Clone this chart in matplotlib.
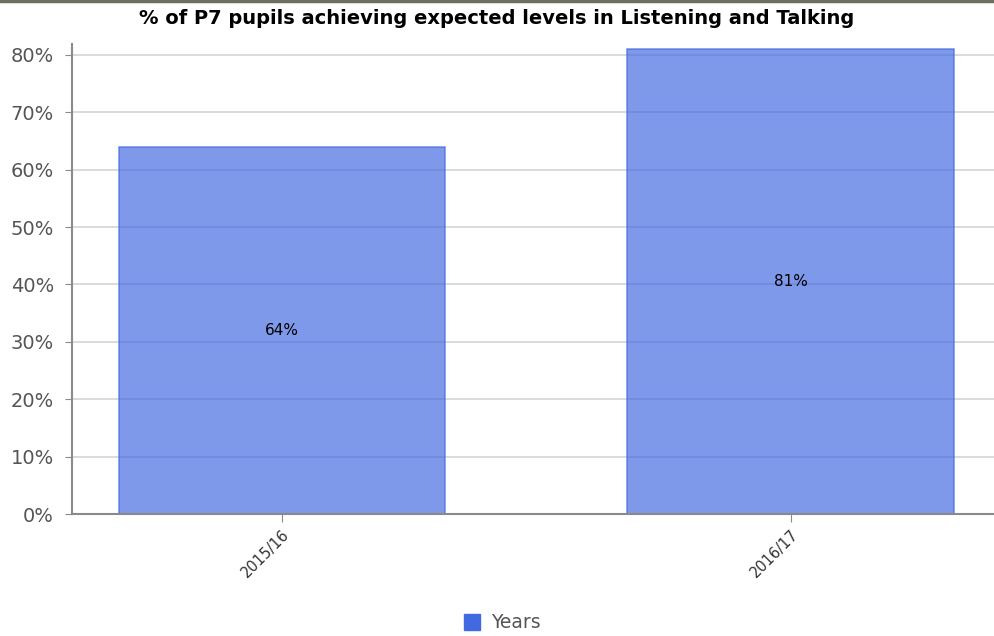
import matplotlib
matplotlib.use("Agg")
import matplotlib.pyplot as plt
from matplotlib.lines import Line2D
from matplotlib.ticker import FuncFormatter, MultipleLocator

# ---------------------------------------------------------------------------
# Data
# ---------------------------------------------------------------------------
years = ["2015/16", "2016/17"]
pct_achieving = [64, 81]
series_name = "Years"
title = "% of P7 pupils achieving expected levels in Listening and Talking"

BAR_COLOR = "#4169e1"

fig = plt.figure(figsize=(9.94, 6.36), dpi=100)
ax = fig.add_axes([72 / 994, 1 - 514 / 636, 1 - 72 / 994, (514 - 44) / 636])

x = range(len(years))
bars = ax.bar(x, pct_achieving, width=0.642, color=BAR_COLOR, alpha=0.68,
              edgecolor=BAR_COLOR, linewidth=1.2, zorder=2)

for xi, v in zip(x, pct_achieving):
    ax.text(xi, v / 2, f"{v}%", ha="center", va="center", fontsize=11,
            color="black", zorder=3)

ax.set_xlim(-0.413, 1.40)
ax.set_ylim(0, 81.9)
ax.yaxis.set_major_locator(MultipleLocator(10))
ax.yaxis.set_major_formatter(FuncFormatter(lambda v, _: f"{v:.0f}%"))
ax.set_xticks(list(x))
ax.set_xticklabels(years, rotation=45, ha="right", rotation_mode="anchor",
                   fontsize=10.5, color="#333333")

ax.grid(axis="y", color="#d4d4d4", linewidth=1.2, zorder=1)
ax.set_axisbelow(True)

for side in ("top", "right"):
    ax.spines[side].set_visible(False)
for side in ("left", "bottom"):
    ax.spines[side].set_color("#8a8a8a")
    ax.spines[side].set_linewidth(1.5)

ax.tick_params(axis="y", length=5, color="#8a8a8a", labelsize=14,
               labelcolor="#555555", pad=8)
ax.tick_params(axis="x", length=6, color="#8a8a8a", pad=3)

fig.text(0.5, 1 - 18 / 636, title, ha="center", va="center",
         fontsize=14, fontweight="bold", color="black")

# Legend under the plot
handle = Line2D([], [], marker="s", linestyle="none", markersize=11,
                markerfacecolor=BAR_COLOR, markeredgecolor=BAR_COLOR)
fig.legend([handle], [series_name], loc="center", bbox_to_anchor=(0.5, 1 - 623 / 636),
           frameon=False, fontsize=13.5, labelcolor="#555555", handletextpad=0.0,
           borderaxespad=0)

# Thin frame line across the top edge
fig.add_artist(Line2D([0, 1], [0.998, 0.998], transform=fig.transFigure,
                      color="#6e6e60", linewidth=2.5))

fig.savefig("out.png", dpi=100)
